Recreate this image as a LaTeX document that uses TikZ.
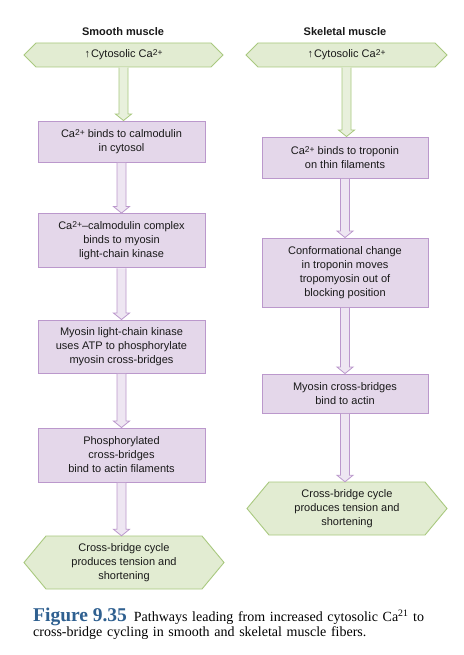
\documentclass[tikz,border=0pt]{standalone}
\usepackage{fontspec}
\setmainfont{Liberation Sans}
\newfontfamily\capfont{Liberation Serif}
\usetikzlibrary{calc}
\definecolor{hexfill}{HTML}{E2ECD2}
\definecolor{hexdraw}{HTML}{A9C97F}
\definecolor{boxfill}{HTML}{E4D7EA}
\definecolor{boxdraw}{HTML}{BB98CC}
\definecolor{garrfill}{HTML}{E8F0DC}
\definecolor{parrfill}{HTML}{EEE6F2}
\definecolor{figblue}{HTML}{2F6090}
\newcommand{\supr}[1]{\raisebox{0.35ex}{\fontsize{8.5}{9}\selectfont #1}}
\tikzset{
  stepbox/.style={rectangle, draw=boxdraw, fill=boxfill, line width=0.9pt, align=center,
    font=\fontsize{11}{14}\selectfont, inner sep=0pt, text=black!90},
  hextext/.style={rectangle, align=center, inner sep=0pt,
    font=\fontsize{11}{14}\selectfont, text=black!90},
  coltitle/.style={font=\bfseries\fontsize{11}{12}\selectfont, text=black!90},
}
% \hexa{name}{cx}{cy}{halfw}{halfh}{run}{text}
\newcommand{\hexa}[7]{%
  \draw[draw=hexdraw, fill=hexfill, line width=0.9pt]
    (#2-#4,#3) -- (#2-#4+#6,#3-#5) -- (#2+#4-#6,#3-#5) -- (#2+#4,#3)
    -- (#2+#4-#6,#3+#5) -- (#2-#4+#6,#3+#5) -- cycle;
  \node[hextext, minimum width=2*#4*1pt, minimum height=2*#5*1pt] (#1) at (#2,#3) {#7};
}
% \blockarr{from}{to}{draw}{fill}
\newcommand{\blockarr}[4]{%
  \draw[draw=#3, fill=#4, line width=0.8pt, line join=miter]
    let \p1=(#1.south), \p2=(#2.north) in
    (\x1-4.5pt,\y1-0.5pt) -- (\x1-4.5pt,\y2+6.5pt) -- (\x1-8pt,\y2+6.5pt) -- (\x1,\y2)
    -- (\x1+8pt,\y2+6.5pt) -- (\x1+4.5pt,\y2+6.5pt) -- (\x1+4.5pt,\y1-0.5pt);
}
\begin{document}
\begin{tikzpicture}[x=1pt,y=-1pt]
\useasboundingbox (0,0) rectangle (463,655);
\fill[white] (0,0) rectangle (463,655);

% titles
\node[coltitle] (tl) at (123,32) {Smooth muscle};
\node[coltitle] (tr) at (345,32) {Skeletal muscle};

% left column
\hexa{lh1}{123.5}{55}{99.5}{12}{12}{\textuparrow\kern1pt Cytosolic Ca\supr{2+}}
\node[stepbox, minimum width=167pt, minimum height=41pt] (l1) at (121.5,141.5)
  {Ca\supr{2+} binds to calmodulin\\in cytosol};
\node[stepbox, minimum width=167pt, minimum height=54pt] (l2) at (121.5,240.5)
  {Ca\supr{2+}–calmodulin complex\\binds to myosin\\light-chain kinase};
\node[stepbox, minimum width=167pt, minimum height=53pt] (l3) at (121.5,346.5)
  {Myosin light-chain kinase\\uses ATP to phosphorylate\\myosin cross-bridges};
\node[stepbox, minimum width=167pt, minimum height=54pt] (l4) at (121.5,455)
  {Phosphorylated\\cross-bridges\\bind to actin filaments};

% right column
\hexa{rh1}{346.5}{55}{100.5}{12}{12}{\textuparrow\kern1pt Cytosolic Ca\supr{2+}}
\node[stepbox, minimum width=166pt, minimum height=41pt] (r1) at (345,157.5)
  {Ca\supr{2+} binds to troponin\\on thin filaments};
\node[stepbox, minimum width=166pt, minimum height=69pt] (r2) at (345,272.5)
  {Conformational change\\in troponin moves\\tropomyosin out of\\blocking position};
\node[stepbox, minimum width=166pt, minimum height=39pt] (r3) at (345,393.5)
  {Myosin cross-bridges\\bind to actin};

% arrows
\blockarr{lh1}{l1}{hexdraw}{garrfill}
\blockarr{l1}{l2}{boxdraw}{parrfill}
\blockarr{l2}{l3}{boxdraw}{parrfill}
\blockarr{l3}{l4}{boxdraw}{parrfill}
\blockarr{rh1}{r1}{hexdraw}{garrfill}
\blockarr{r1}{r2}{boxdraw}{parrfill}
\blockarr{r2}{r3}{boxdraw}{parrfill}

% bottom hexagons
\hexa{lh2}{124}{562.5}{100}{26.5}{22}{Cross-bridge cycle\\produces tension and\\shortening}
\hexa{rh2}{347}{508.5}{100}{26.5}{22}{Cross-bridge cycle\\produces tension and\\shortening}
\blockarr{l4}{lh2}{boxdraw}{parrfill}
\blockarr{r3}{rh2}{boxdraw}{parrfill}

% caption
\node[anchor=north west, inner sep=0pt, align=left, text width=428pt,
  font=\capfont\fontsize{14}{14}\selectfont] (cap) at (33,608)
  {{\color{figblue}\bfseries\fontsize{19.5}{14}\selectfont Figure 9.35}\hspace{7pt}Pathways leading from increased cytosolic Ca\textsuperscript{21} to\\
   cross-bridge cycling in smooth and skeletal muscle fibers.};
\end{tikzpicture}
\end{document}
